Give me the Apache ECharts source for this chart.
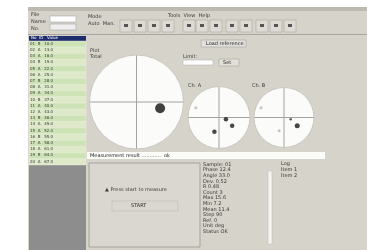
<!DOCTYPE html>
<html>
<head>
<meta charset="utf-8">
<script src="https://cdn.jsdelivr.net/npm/echarts@6/dist/echarts.min.js"></script>
<style>
  html, body { margin: 0; padding: 0; background: #fff; }
  #chart { width: 367px; height: 250px; }
</style>
</head>
<body>
<div id="chart"></div>
<script>
// points as [radius (0..1), angle in degrees, counter-clockwise from east]
const mainDots = [[0.52, 345]]
const leftDots = [[0.23, 346], [0.5, 328], [0.48, 252]]
const leftFaint = [[0.81, 157]]
const rightDots = [[0.52, 328]]
const rightSmall = [[0.23, 345]]
const rightFaint = [[0.83, 157], [0.47, 250]]

const tableRows = 20
const infoLines = ['Sample: 01', 'Phase 12.4', 'Angle 33.0', 'Dev. 0.52', 'R 0.48',
  'Count 3', 'Max 15.6', 'Min 7.2', 'Mean 11.4', 'Step 90', 'Ref. 0', 'Unit deg', 'Status OK']
const toolButtons = [120, 134, 148, 162, 183, 196, 210, 226, 240, 256, 270, 284]

const chart = echarts.init(document.getElementById('chart'))

const faceColor = '#d6d3cb'
const txt = (x, y, text, extra) => ({
  type: 'text', x, y,
  style: Object.assign({ text, fill: '#3a3a3a', font: '5px "DejaVu Sans"' }, extra || {})
})

const graphics = [
  // window body
  { type: 'rect', shape: { x: 28, y: 7, width: 339, height: 243 }, style: { fill: faceColor } },
  { type: 'rect', shape: { x: 28, y: 7, width: 339, height: 4 }, style: { fill: '#bdbab2' } },
  { type: 'rect', shape: { x: 28, y: 34, width: 339, height: 1 }, style: { fill: '#a9a69f' } },
  // top-left labels and fields
  txt(31, 12, 'File'), txt(31, 19, 'Name'), txt(31, 26, 'No.'),
  { type: 'rect', shape: { x: 50, y: 16, width: 26, height: 6 }, style: { fill: '#fff', stroke: '#999', lineWidth: 0.5 } },
  { type: 'rect', shape: { x: 50, y: 24, width: 26, height: 6 }, style: { fill: '#eee', stroke: '#999', lineWidth: 0.5 } },
  txt(88, 14, 'Mode'), txt(88, 21, 'Auto  Man.'), txt(168, 13, 'Tools  View  Help'),
  // table
  { type: 'rect', shape: { x: 29, y: 36, width: 57, height: 5 }, style: { fill: '#1f2d6e' } },
  txt(31, 36, 'No  ID   Value', { fill: '#fff', font: '4px "DejaVu Sans"' }),
  { type: 'rect', shape: { x: 29, y: 165, width: 57, height: 85 }, style: { fill: '#8d8d8d' } },
  // info text bar
  { type: 'rect', shape: { x: 87, y: 152, width: 238, height: 7 }, style: { fill: '#fbfbf8' } },
  txt(90, 153, 'Measurement result ............  ok', { fill: '#222' }),
  // lower-left panel
  { type: 'rect', shape: { x: 89, y: 163, width: 111, height: 84 }, style: { fill: '#dad7d0', stroke: '#a6a39c', lineWidth: 1 } },
  txt(105, 187, '\u25B2 Press start to measure'),
  { type: 'rect', shape: { x: 112, y: 201, width: 66, height: 10 }, style: { fill: 'none', stroke: '#b5b2ab', lineWidth: 0.5 } },
  txt(131, 203, 'START', { fill: '#222' }),
  // scroll bar
  { type: 'rect', shape: { x: 268, y: 171, width: 4, height: 73 }, style: { fill: '#f4f3ef', stroke: '#bbb', lineWidth: 0.5 } },
  txt(281, 161, 'Log'), txt(281, 167, 'Item 1'), txt(281, 173, 'Item 2'),
  // buttons in main area
  { type: 'rect', shape: { x: 201, y: 40, width: 45, height: 7 }, style: { fill: '#e2e0da', stroke: '#9c9992', lineWidth: 0.5 } },
  txt(206, 41, 'Load reference', { fill: '#222' }),
  txt(183, 54, 'Limit:'),
  { type: 'rect', shape: { x: 183, y: 60, width: 30, height: 5 }, style: { fill: '#fff', stroke: '#aaa', lineWidth: 0.5 } },
  { type: 'rect', shape: { x: 219, y: 59, width: 20, height: 7 }, style: { fill: '#e2e0da', stroke: '#9c9992', lineWidth: 0.5 } },
  txt(223, 60, 'Set', { fill: '#222' }),
  // plot captions
  txt(90, 48, 'Plot'), txt(90, 54, 'Total'),
  txt(188, 83, 'Ch. A'), txt(252, 83, 'Ch. B')
]

for (let i = 0; i < tableRows; i++) {
  const y = 41 + i * 6.2
  graphics.push({ type: 'rect', shape: { x: 29, y, width: 57, height: 6.2 },
    style: { fill: i % 2 ? '#dde9c8' : '#cde3b6', stroke: '#eef3e4', lineWidth: 0.4 } })
  graphics.push(txt(30, y + 0.8, String(i + 1).padStart(2, '0') + '  ' + (i % 3 ? 'A' : 'B') + '   ' + (10 + i * 3) + '.0', { font: '4px "DejaVu Sans"' }))
}
toolButtons.forEach((x) => {
  graphics.push({ type: 'rect', shape: { x, y: 20, width: 12, height: 12 },
    style: { fill: '#dedbd4', stroke: '#9c9992', lineWidth: 0.5 } })
  graphics.push({ type: 'rect', shape: { x: x + 4, y: 24, width: 4, height: 3 }, style: { fill: '#555' } })
})
infoLines.forEach((t, i) => graphics.push(txt(203, 162 + i * 5.6, t)))

const angleAxis = (i) => ({
  polarIndex: i, type: 'value', min: 0, max: 360, interval: 90,
  startAngle: 0, clockwise: false,
  axisLine: { show: true, lineStyle: { color: '#c9c7c0', width: 1 } },
  axisTick: { show: false }, axisLabel: { show: false },
  splitLine: { show: true, lineStyle: { color: '#a2a2a0', width: 1 } },
  splitArea: { show: false }
})
const radiusAxis = (i) => ({
  polarIndex: i, type: 'value', min: 0, max: 1, interval: 1,
  axisLine: { show: false }, axisTick: { show: false }, axisLabel: { show: false },
  splitLine: { show: false },
  splitArea: { show: true, areaStyle: { color: ['#fbfbf9'] } }
})
const dots = (i, data, size, color) => ({
  type: 'scatter', coordinateSystem: 'polar', polarIndex: i, data,
  symbolSize: size, itemStyle: { color }, silent: true, z: 5
})

chart.setOption({
  animation: false,
  backgroundColor: '#ffffff',
  polar: [
    { center: [136.5, 102], radius: 47 },
    { center: [219, 117.5], radius: 31 },
    { center: [284, 117.5], radius: 30 }
  ],
  angleAxis: [angleAxis(0), angleAxis(1), angleAxis(2)],
  radiusAxis: [radiusAxis(0), radiusAxis(1), radiusAxis(2)],
  graphic: { elements: graphics.map((g) => Object.assign({ z: -1, silent: true }, g)) },
  series: [
    dots(0, mainDots, 10, '#111'),
    dots(1, leftDots, 4.5, '#1a1a1a'),
    dots(1, leftFaint, 3, '#b8b8b4'),
    dots(2, rightDots, 5, '#1a1a1a'),
    dots(2, rightSmall, 2.5, '#333'),
    dots(2, rightFaint, 3, '#b8b8b4')
  ]
})
</script>
</body>
</html>
